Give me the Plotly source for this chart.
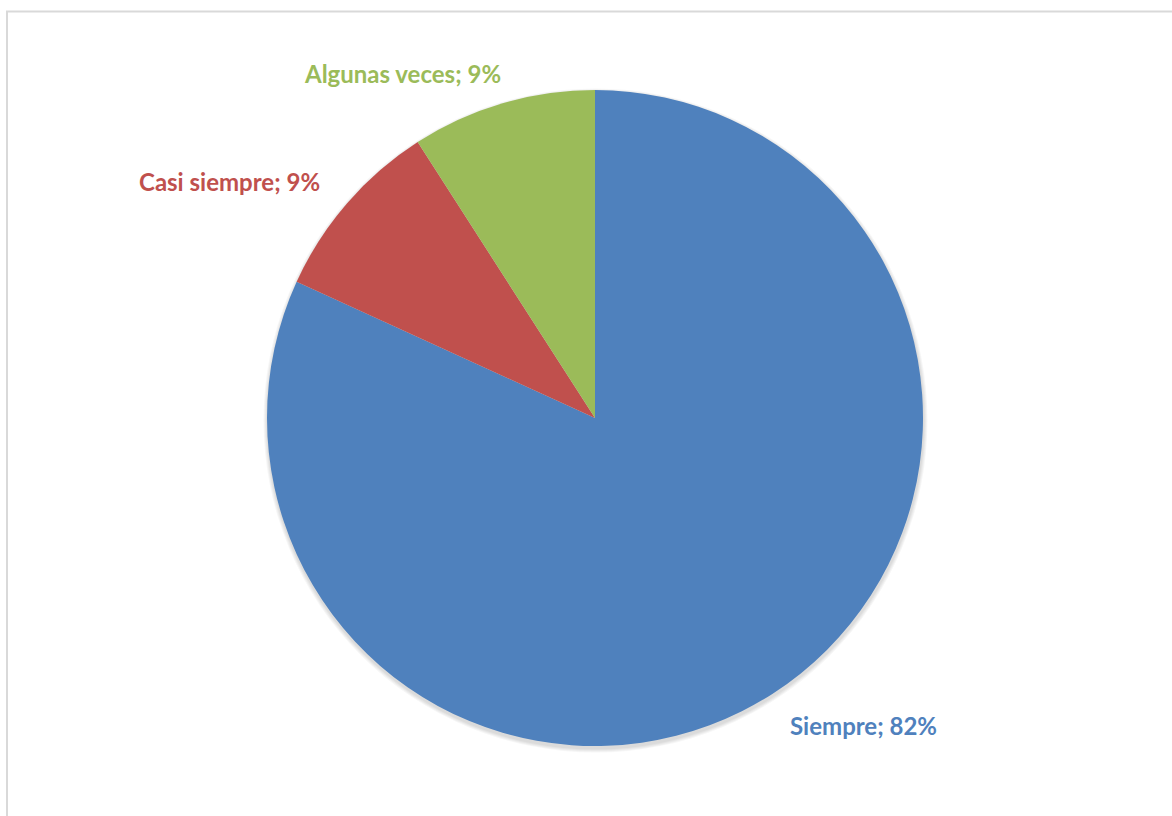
import plotly.graph_objects as go

# Survey responses (count of answers per category)
categories = ["Siempre", "Casi siempre", "Algunas veces"]
counts = [9, 1, 1]
colors = ["#4F81BD", "#C0504D", "#9BBB59"]

# Label anchor points (paper coords) for each category
label_pos = {
    "Siempre": (863 / 1172, 1 - 725 / 816),
    "Casi siempre": (229 / 1172, 1 - 181 / 816),
    "Algunas veces": (402 / 1172, 1 - 73 / 816),
}

W, H = 1172, 816
cx, cy, r = 595, 418, 328

total = sum(counts)
pcts = [round(100 * c / total) for c in counts]

fig = go.Figure()
fig.add_trace(go.Pie(
    labels=categories,
    values=counts,
    sort=False,
    direction="clockwise",
    rotation=0,
    marker=dict(colors=colors, line=dict(width=0)),
    textinfo="none",
    hoverinfo="label+percent",
    showlegend=False,
    domain=dict(x=[(cx - r) / W, (cx + r) / W],
                y=[(H - cy - r) / H, (H - cy + r) / H]),
))

annotations = []
for cat, pct, col in zip(categories, pcts, colors):
    x, y = label_pos[cat]
    annotations.append(dict(
        x=x, y=y, xref="paper", yref="paper",
        text=f"<b>{cat}; {pct}%</b>",
        showarrow=False,
        font=dict(family="Lato, Carlito, Calibri, sans-serif", size=24, color=col),
        xanchor="center", yanchor="middle",
    ))


def px_circle(x_c, y_c, rad, fill):
    """Circle shape given in pixel units (y measured from the top)."""
    return dict(
        type="circle", xref="paper", yref="paper",
        x0=(x_c - rad) / W, x1=(x_c + rad) / W,
        y0=1 - (y_c + rad) / H, y1=1 - (y_c - rad) / H,
        line=dict(width=0), fillcolor=fill, layer="below",
    )


# Soft drop shadow under the pie
shadow = [px_circle(cx + 0.5, cy + 2.5, r + k, "rgba(0,0,0,0.035)")
          for k in (4, 3, 2, 1)]

frame = dict(
    type="rect", xref="paper", yref="paper",
    x0=7 / W, x1=1.02, y0=-0.02, y1=1 - 11.5 / H,
    line=dict(color="#D9D9D9", width=2),
    fillcolor="rgba(0,0,0,0)",
    layer="below",
)

fig.update_layout(
    width=W, height=H,
    margin=dict(l=0, r=0, t=0, b=0),
    paper_bgcolor="white",
    plot_bgcolor="white",
    annotations=annotations,
    shapes=[frame] + shadow,
)

fig.write_html("out.html")
